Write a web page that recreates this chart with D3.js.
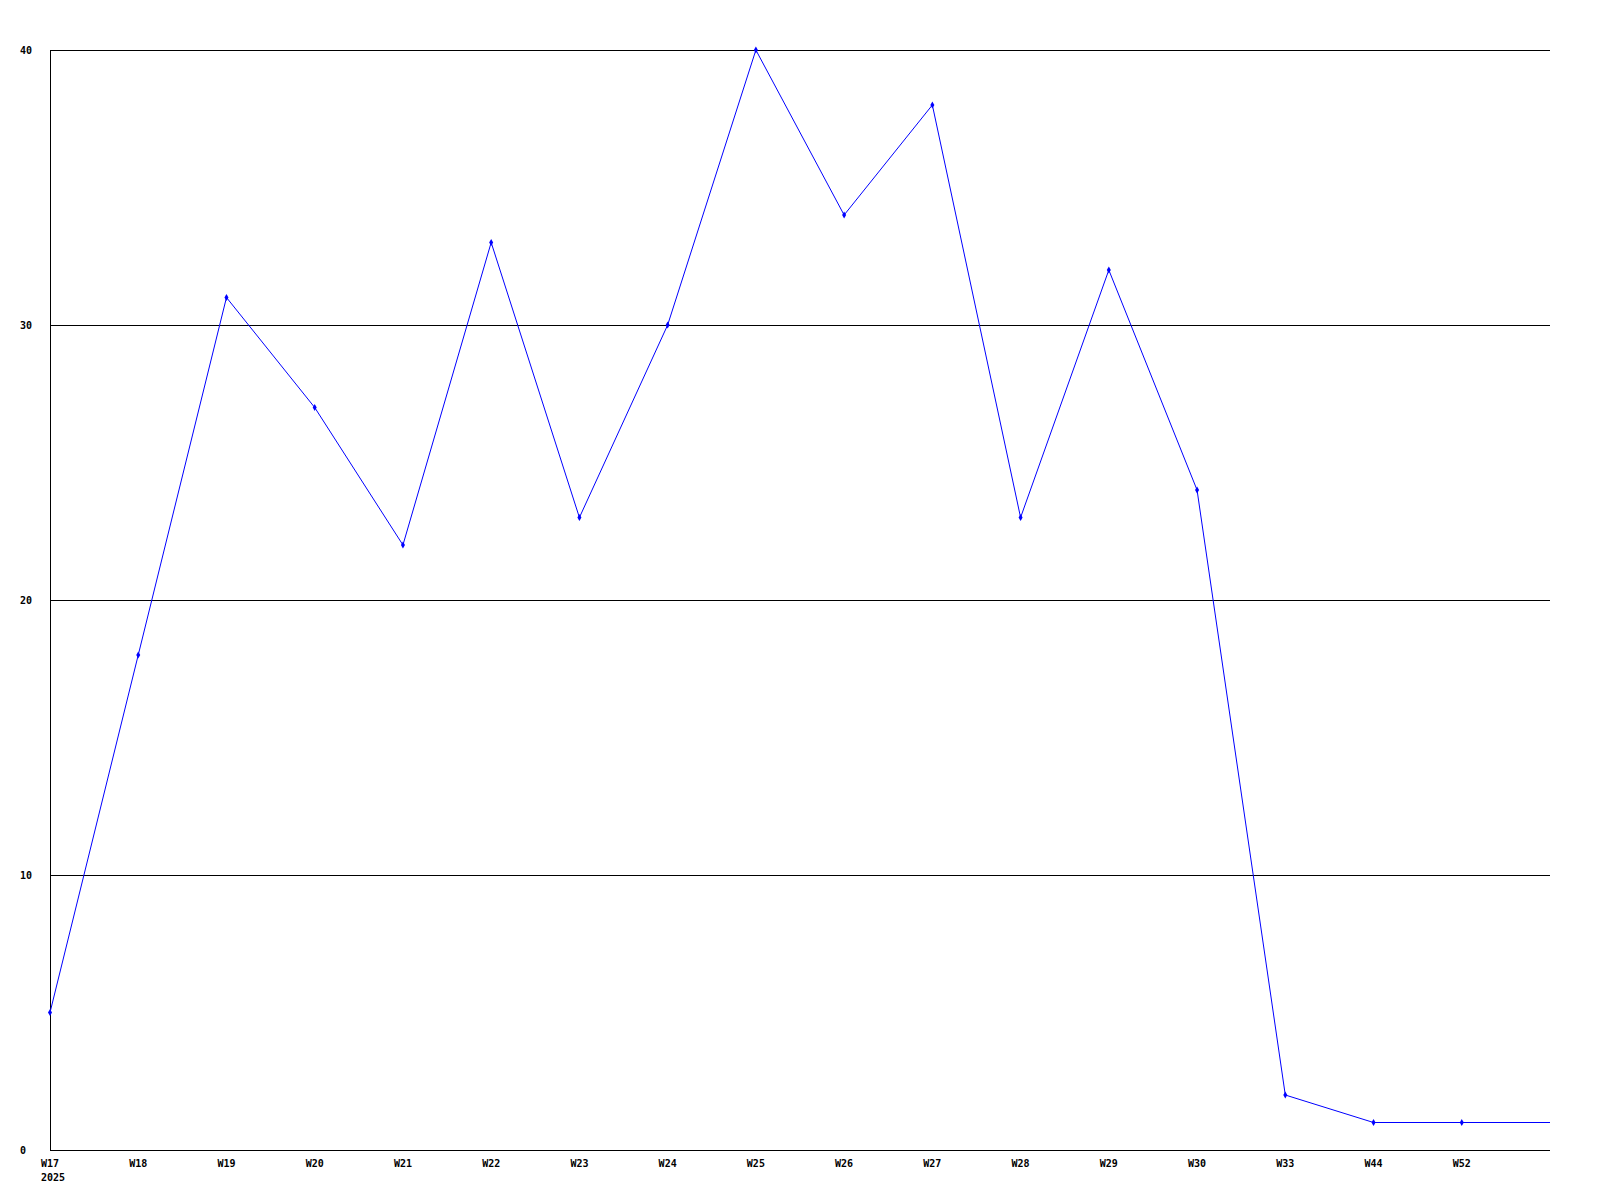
<!DOCTYPE html>
<html>
<head>
<meta charset="utf-8">
<script src="https://cdn.jsdelivr.net/npm/d3@7"></script>
<style>
  body { margin: 0; background: #fff; }
  text { font-family: "DejaVu Sans Mono", monospace; font-weight: bold; font-size: 10px; fill: #000; }
</style>
</head>
<body>
<div id="chart"></div>
<script>
const weeks  = ["W17","W18","W19","W20","W21","W22","W23","W24","W25","W26","W27","W28","W29","W30","W33","W44","W52"];
const counts = [5, 18, 31, 27, 22, 33, 23, 30, 40, 34, 38, 23, 32, 24, 2, 1, 1];
const yTicks = [0, 10, 20, 30, 40];
const yearLabel = "2025";

const width = 1600, height = 1200;
const plotLeft = 50, plotRight = 1550, plotTop = 50, plotBottom = 1150;

const svg = d3.select("#chart")
              .append("svg")
              .attr("width", width)
              .attr("height", height);

// one slot per week plus one empty slot at the right end
const x = d3.scaleLinear().domain([0, weeks.length]).range([plotLeft, plotRight]);
const y = d3.scaleLinear().domain([0, 40]).range([plotBottom, plotTop]);

// grid lines
svg.append("g")
   .selectAll("line")
   .data(yTicks)
   .join("line")
   .attr("x1", plotLeft).attr("x2", plotRight)
   .attr("y1", d => Math.round(y(d)) + 0.5)
   .attr("y2", d => Math.round(y(d)) + 0.5)
   .attr("stroke", "#000")
   .attr("shape-rendering", "crispEdges");

// left axis line
svg.append("line")
   .attr("x1", plotLeft + 0.5).attr("x2", plotLeft + 0.5)
   .attr("y1", plotTop).attr("y2", plotBottom + 1)
   .attr("stroke", "#000")
   .attr("shape-rendering", "crispEdges");

// y labels
svg.append("g")
   .selectAll("text")
   .data(yTicks)
   .join("text")
   .attr("x", 20)
   .attr("y", d => y(d))
   .attr("dy", "0.35em")
   .text(d => d);

// x labels
svg.append("g")
   .selectAll("text")
   .data(weeks)
   .join("text")
   .attr("x", (d, i) => x(i))
   .attr("y", plotBottom + 17)
   .attr("text-anchor", "middle")
   .text(d => d);

svg.append("text")
   .attr("x", x(0) + 3)
   .attr("y", plotBottom + 31)
   .attr("text-anchor", "middle")
   .text(yearLabel);

// series line, held flat to the right edge after the last week
const pts = counts.map((v, i) => [x(i), y(v)]);
pts.push([x(weeks.length), y(counts[counts.length - 1])]);

svg.append("path")
   .attr("d", d3.line()(pts))
   .attr("fill", "none")
   .attr("stroke", "#0000ff")
   .attr("stroke-width", 1);

// markers
svg.append("g")
   .selectAll("path")
   .data(counts)
   .join("path")
   .attr("transform", (d, i) => `translate(${x(i)},${y(d)})`)
   .attr("d", d3.symbol().type(d3.symbolDiamond).size(14))
   .attr("fill", "#0000ff");
</script>
</body>
</html>
